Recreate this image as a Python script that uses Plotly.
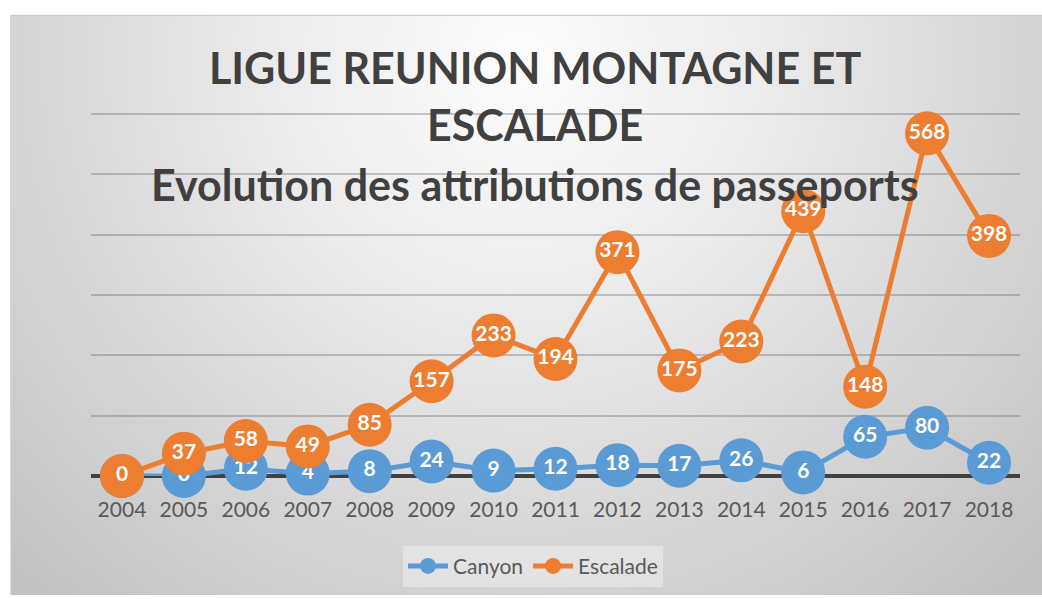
import base64
import plotly.graph_objects as go

years = ["2004", "2005", "2006", "2007", "2008", "2009", "2010", "2011",
         "2012", "2013", "2014", "2015", "2016", "2017", "2018"]
canyon = [0, 0, 12, 4, 8, 24, 9, 12, 18, 17, 26, 6, 65, 80, 22]
escalade = [0, 37, 58, 49, 85, 157, 233, 194, 371, 175, 223, 439, 148, 568, 398]

title_lines = ["LIGUE REUNION MONTAGNE ET", "ESCALADE",
               "Evolution des attributions de passeports"]

W, H = 1042, 599
L, R, T, B = 91, 22, 108, 120
pw, ph = W - L - R, H - T - B

def px_x(p):
    return (p - L) / pw

def px_y(p):
    return (H - B - p) / ph

FONT = "Lato"
BLUE = "#5B9BD5"
ORANGE = "#ED7D31"

fig = go.Figure()
for name, vals, col in [("Canyon", canyon, BLUE), ("Escalade", escalade, ORANGE)]:
    fig.add_trace(go.Scatter(
        x=years, y=vals, name=name, mode="lines+markers+text",
        line=dict(color=col, width=5),
        marker=dict(color=col, size=44, line=dict(width=0)),
        text=[str(v) for v in vals], textposition="middle center",
        textfont=dict(family=FONT, size=21, color="white", weight="bold"),
        cliponaxis=False, hoverinfo="skip",
    ))

# radial gradient background (chart frame)
fx0, fy0 = 10, 14
fw, fh = W - fx0, H - fy0
svg = f'''<svg xmlns="http://www.w3.org/2000/svg" width="{fw}" height="{fh}" viewBox="0 0 {fw} {fh}" preserveAspectRatio="none">
<defs><radialGradient id="g" gradientUnits="userSpaceOnUse" cx="{520-fx0}" cy="{60-fy0}" r="720">
<stop offset="0" stop-color="#fdfdfd"/><stop offset="0.35" stop-color="#ebebeb"/><stop offset="1" stop-color="#c2c2c2"/></radialGradient></defs>
<rect x="0" y="0" width="{fw}" height="{fh}" fill="url(#g)"/>
<line x1="0" y1="0.5" x2="{fw}" y2="0.5" stroke="#c8c8c8" stroke-width="1.5"/>
<line x1="0.5" y1="0" x2="0.5" y2="{fh}" stroke="#d8d8d8" stroke-width="1.5"/>
</svg>'''
src = "data:image/svg+xml;base64," + base64.b64encode(svg.encode()).decode()
fig.add_layout_image(dict(
    source=src, xref="paper", yref="paper",
    x=px_x(fx0), y=px_y(fy0), sizex=fw / pw, sizey=fh / ph,
    xanchor="left", yanchor="top", sizing="stretch", layer="below",
))

for line, py in zip(title_lines, [67, 125, 185]):
    fig.add_annotation(
        text=f"<b>{line}</b>", xref="paper", yref="paper",
        x=px_x(535), y=px_y(py), xanchor="center", yanchor="middle",
        showarrow=False, font=dict(family=FONT, size=43, color="#404040"),
    )

fig.update_layout(
    width=W, height=H, margin=dict(l=L, r=R, t=T, b=B),
    paper_bgcolor="white", plot_bgcolor="rgba(0,0,0,0)",
    showlegend=True,
    legend=dict(orientation="h", x=px_x(533), y=px_y(570), xanchor="center",
                yanchor="middle", bgcolor="rgba(255,255,255,0.35)",
                font=dict(family=FONT, size=21, color="#595959"),
                itemwidth=40),
    xaxis=dict(type="category", range=[-0.5, 14.5], showgrid=False,
               showline=False, ticks="outside", ticklen=15,
               tickcolor="rgba(0,0,0,0)", zeroline=False,
               tickfont=dict(family=FONT, size=21, color="#595959")),
    yaxis=dict(range=[0, 610], tickvals=[100, 200, 300, 400, 500, 600],
               showgrid=True,
               gridcolor="rgba(90,90,90,0.32)", gridwidth=1.5,
               showticklabels=False, ticks="", showline=False,
               zeroline=True, zerolinecolor="#404040", zerolinewidth=4),
)

fig.write_html("out.html")
